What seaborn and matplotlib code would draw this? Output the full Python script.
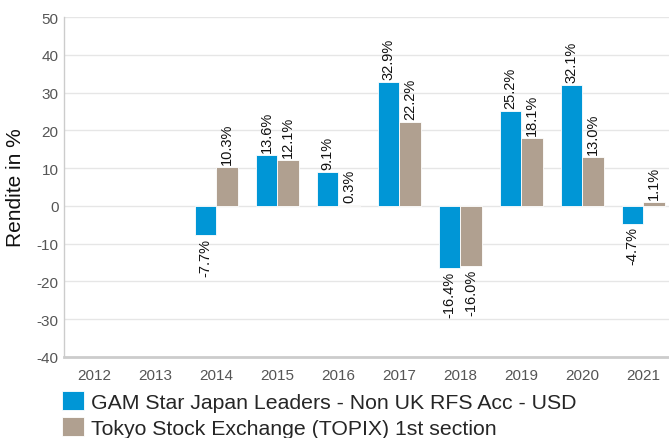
import numpy as np
import pandas as pd
import matplotlib
matplotlib.use("Agg")
import matplotlib.pyplot as plt
import seaborn as sns

years = ["2012", "2013", "2014", "2015", "2016", "2017", "2018", "2019", "2020", "2021"]
fund = [np.nan, np.nan, -7.7, 13.6, 9.1, 32.9, -16.4, 25.2, 32.1, -4.7]
index = [np.nan, np.nan, 10.3, 12.1, 0.3, 22.2, -16.0, 18.1, 13.0, 1.1]
series_names = ["GAM Star Japan Leaders - Non UK RFS Acc - USD",
                "Tokyo Stock Exchange (TOPIX) 1st section"]
colors = ["#0096D6", "#B0A090"]

df = pd.DataFrame({
    "year": years * 2,
    "value": fund + index,
    "series": [series_names[0]] * len(years) + [series_names[1]] * len(years),
})

sns.set_theme(style="white")
plt.rcParams["font.family"] = ["Liberation Sans", "DejaVu Sans"]
plt.rcParams["axes.unicode_minus"] = False

fig = plt.figure(figsize=(6.69, 4.39), dpi=100)
ax = fig.add_axes([64 / 669, 1 - 358 / 439, 1 - 64 / 669, (358 - 18) / 439])

sns.barplot(data=df, x="year", y="value", hue="series", order=years,
            hue_order=series_names, palette=colors, width=0.7,
            edgecolor="white", linewidth=0.6, ax=ax, legend=True, saturation=1)

for cont in ax.containers:
    for bar in cont:
        h = bar.get_height()
        if h is None or np.isnan(h):
            continue
        xc = bar.get_x() + bar.get_width() / 2
        if h >= 0:
            ax.annotate(f"{h:.1f}%", xy=(xc, h), xytext=(0, 2), textcoords="offset points",
                        rotation=90, ha="center", va="bottom", fontsize=10.5, color="#111111")
        else:
            ax.annotate(f"{h:.1f}%", xy=(xc, h), xytext=(0, -2), textcoords="offset points",
                        rotation=90, ha="center", va="top", fontsize=10.5, color="#111111")

ax.set_ylim(-40, 50)
ax.set_yticks(range(-40, 51, 10))
ax.set_xlim(-0.5, 9.42)
ax.yaxis.grid(True, color="#e6e6e6", linewidth=1)
ax.set_axisbelow(True)
ax.tick_params(axis="both", length=0, labelsize=11, labelcolor="#555555")
ax.tick_params(axis="x", pad=8)
ax.tick_params(axis="y", pad=4)
ax.set_xlabel("")
ax.set_ylabel("Rendite in %", fontsize=15, color="#111111", labelpad=8)
for s in ["top", "right"]:
    ax.spines[s].set_visible(False)
ax.spines["left"].set_color("#cccccc")
ax.spines["left"].set_linewidth(1)
ax.spines["bottom"].set_color("#cccccc")
ax.spines["bottom"].set_linewidth(2)

handles, labels = ax.get_legend_handles_labels()
ax.get_legend().remove()
fig.legend(handles, labels, loc="upper left", bbox_to_anchor=(58 / 669, 1 - 388 / 439),
           frameon=False, fontsize=15.3, handlelength=1.0, handleheight=1.0,
           handletextpad=0.33, labelspacing=0.25, borderaxespad=0, borderpad=0.2)

fig.savefig("out.png", dpi=100)
